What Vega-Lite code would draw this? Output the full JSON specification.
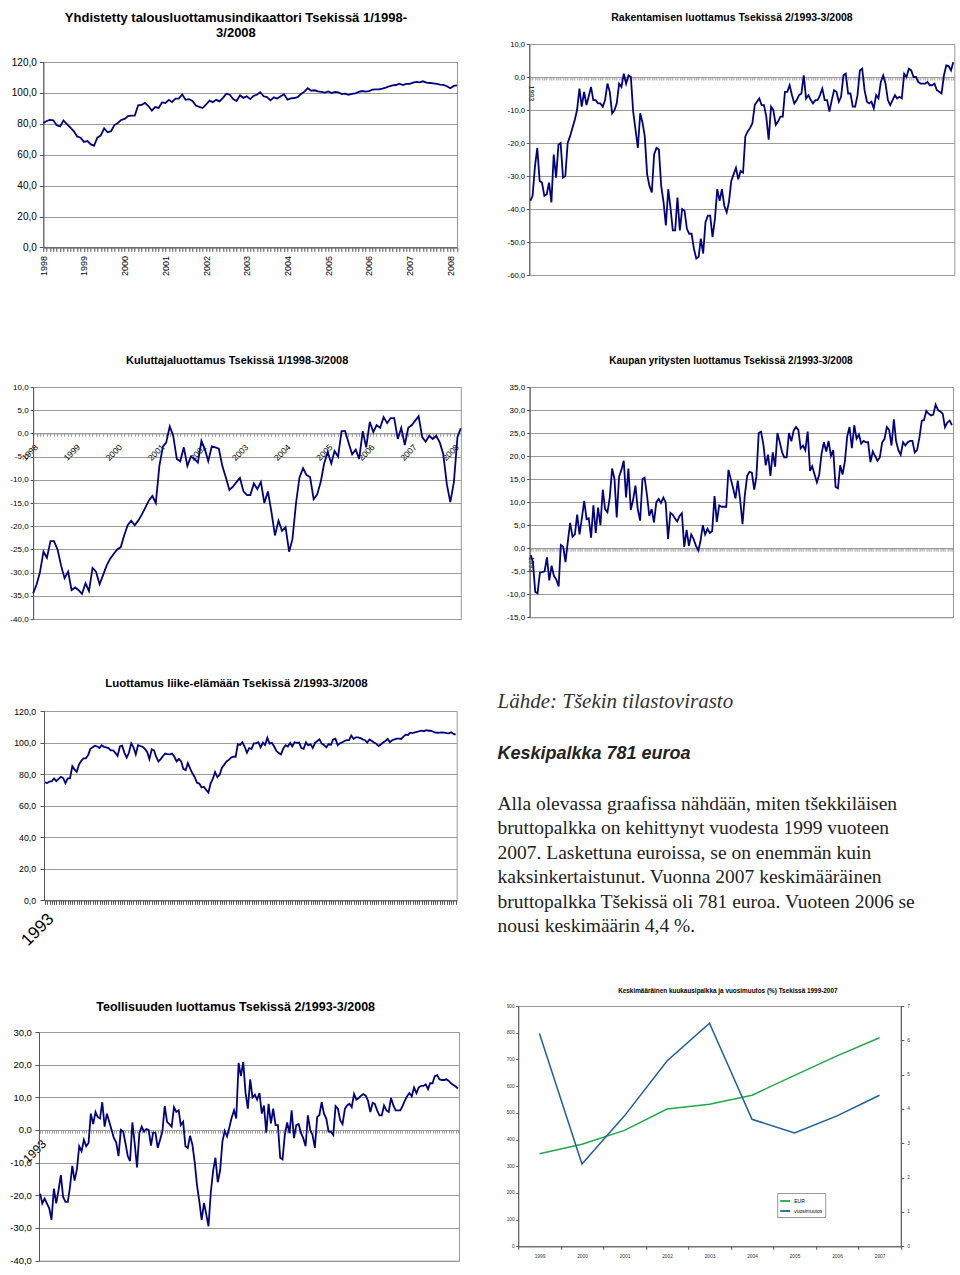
{
"$schema": "https://vega.github.io/schema/vega-lite/v6.json",
"background": "white",
"padding": {"left": 3, "top": 0, "right": 0, "bottom": 0},
"config": {
  "font": "Liberation Sans",
  "view": {"stroke": "#999999", "strokeWidth": 1},
  "axis": {"labelFont": "Liberation Sans", "labelColor": "#000000", "domainColor": "#555555", "tickColor": "#555555", "gridColor": "#9a9a9a", "gridWidth": 1},
  "axisX": {"grid": false},
  "axisY": {"grid": true},
  "title": {"font": "Liberation Sans", "fontWeight": "bold", "color": "#000000", "anchor": "middle", "frame": "bounds"},
  "line": {"color": "#000080", "strokeWidth": 1.8}
},
"datasets": {
"m98": [
{"d":"1998-01","yht":80.5,"kul":-34.5},{"d":"1998-02","yht":81.8,"kul":-32.5},{"d":"1998-03","yht":82.5,"kul":-30},{"d":"1998-04","yht":82.3,"kul":-25.5},{"d":"1998-05","yht":79,"kul":-26.8},{"d":"1998-06","yht":78.3,"kul":-23.2},{"d":"1998-07","yht":82.2,"kul":-23.2},{"d":"1998-08","yht":79.8,"kul":-25},{"d":"1998-09","yht":77.5,"kul":-28.5},{"d":"1998-10","yht":75.3,"kul":-31.2},{"d":"1998-11","yht":71.8,"kul":-29.8},{"d":"1998-12","yht":71,"kul":-33.8},
{"d":"1999-01","yht":68.3,"kul":-33.2},{"d":"1999-02","yht":68.8,"kul":-33.8},{"d":"1999-03","yht":66.8,"kul":-34.6},{"d":"1999-04","yht":65.8,"kul":-32.3},{"d":"1999-05","yht":71,"kul":-34},{"d":"1999-06","yht":72.5,"kul":-29},{"d":"1999-07","yht":77,"kul":-29.8},{"d":"1999-08","yht":74.5,"kul":-32.5},{"d":"1999-09","yht":75.2,"kul":-30.5},{"d":"1999-10","yht":79.2,"kul":-28.5},{"d":"1999-11","yht":80.5,"kul":-27},{"d":"1999-12","yht":82.5,"kul":-26},
{"d":"2000-01","yht":83.2,"kul":-25},{"d":"2000-02","yht":85,"kul":-24.5},{"d":"2000-03","yht":85.3,"kul":-22},{"d":"2000-04","yht":85.3,"kul":-19.8},{"d":"2000-05","yht":92,"kul":-18.8},{"d":"2000-06","yht":92.2,"kul":-19.8},{"d":"2000-07","yht":93.5,"kul":-18.8},{"d":"2000-08","yht":91.5,"kul":-17.5},{"d":"2000-09","yht":88.5,"kul":-16},{"d":"2000-10","yht":90.8,"kul":-14.5},{"d":"2000-11","yht":90.3,"kul":-13.5},{"d":"2000-12","yht":93.8,"kul":-15},
{"d":"2001-01","yht":93.5,"kul":-7},{"d":"2001-02","yht":95.5,"kul":-2.8},{"d":"2001-03","yht":94,"kul":-2},{"d":"2001-04","yht":96.3,"kul":1.5},{"d":"2001-05","yht":96.3,"kul":-0.5},{"d":"2001-06","yht":99,"kul":-5.5},{"d":"2001-07","yht":95.5,"kul":-6},{"d":"2001-08","yht":96,"kul":-3},{"d":"2001-09","yht":94.8,"kul":-7},{"d":"2001-10","yht":91.8,"kul":-5},{"d":"2001-11","yht":91,"kul":-5.5},{"d":"2001-12","yht":90.2,"kul":-6.3},
{"d":"2002-01","yht":92.5,"kul":-1.6},{"d":"2002-02","yht":95,"kul":-3.5},{"d":"2002-03","yht":94,"kul":-6},{"d":"2002-04","yht":95.5,"kul":-2.8},{"d":"2002-05","yht":94.5,"kul":-3},{"d":"2002-06","yht":96.8,"kul":-3.3},{"d":"2002-07","yht":99.5,"kul":-7},{"d":"2002-08","yht":98.8,"kul":-9.5},{"d":"2002-09","yht":96,"kul":-12.2},{"d":"2002-10","yht":94.8,"kul":-11.5},{"d":"2002-11","yht":98.4,"kul":-10.5},{"d":"2002-12","yht":96.8,"kul":-9.6},
{"d":"2003-01","yht":97.8,"kul":-12.5},{"d":"2003-02","yht":96,"kul":-13.3},{"d":"2003-03","yht":98,"kul":-13.3},{"d":"2003-04","yht":98.8,"kul":-10.8},{"d":"2003-05","yht":100.4,"kul":-12},{"d":"2003-06","yht":97.8,"kul":-10.5},{"d":"2003-07","yht":97.3,"kul":-15},{"d":"2003-08","yht":95.2,"kul":-12.5},{"d":"2003-09","yht":97.1,"kul":-17},{"d":"2003-10","yht":96.3,"kul":-22},{"d":"2003-11","yht":97.8,"kul":-18.8},{"d":"2003-12","yht":99.1,"kul":-21},
{"d":"2004-01","yht":95.6,"kul":-20.2},{"d":"2004-02","yht":96.5,"kul":-25.5},{"d":"2004-03","yht":96.7,"kul":-22.8},{"d":"2004-04","yht":97.3,"kul":-15},{"d":"2004-05","yht":99.3,"kul":-9.5},{"d":"2004-06","yht":100.8,"kul":-7.5},{"d":"2004-07","yht":103,"kul":-9},{"d":"2004-08","yht":101.4,"kul":-9.4},{"d":"2004-09","yht":101.7,"kul":-14.2},{"d":"2004-10","yht":101,"kul":-13.2},{"d":"2004-11","yht":100.6,"kul":-10.5},{"d":"2004-12","yht":100.2,"kul":-6.5},
{"d":"2005-01","yht":101,"kul":-4},{"d":"2005-02","yht":99.9,"kul":-6.5},{"d":"2005-03","yht":100.6,"kul":-3.8},{"d":"2005-04","yht":100.4,"kul":-5},{"d":"2005-05","yht":99.3,"kul":0.5},{"d":"2005-06","yht":99.5,"kul":0.5},{"d":"2005-07","yht":98.8,"kul":-2},{"d":"2005-08","yht":99.3,"kul":-4.5},{"d":"2005-09","yht":99.7,"kul":-3.5},{"d":"2005-10","yht":100.6,"kul":-5.5},{"d":"2005-11","yht":101.2,"kul":0.5},{"d":"2005-12","yht":100.8,"kul":-3},
{"d":"2006-01","yht":101.2,"kul":2.5},{"d":"2006-02","yht":102.1,"kul":0.3},{"d":"2006-03","yht":102.3,"kul":1.8},{"d":"2006-04","yht":102.3,"kul":1.2},{"d":"2006-05","yht":102.7,"kul":3.5},{"d":"2006-06","yht":103.4,"kul":2.2},{"d":"2006-07","yht":104.3,"kul":3.3},{"d":"2006-08","yht":104.9,"kul":3.3},{"d":"2006-09","yht":105.1,"kul":-1.2},{"d":"2006-10","yht":106,"kul":1.2},{"d":"2006-11","yht":105.1,"kul":-2.5},{"d":"2006-12","yht":105.8,"kul":1.2},
{"d":"2007-01","yht":105.8,"kul":1.8},{"d":"2007-02","yht":106.6,"kul":2.8},{"d":"2007-03","yht":107.1,"kul":3.7},{"d":"2007-04","yht":106.8,"kul":-0.8},{"d":"2007-05","yht":107.5,"kul":-1.8},{"d":"2007-06","yht":106.6,"kul":-0.5},{"d":"2007-07","yht":106.4,"kul":-1.2},{"d":"2007-08","yht":106.2,"kul":-0.5},{"d":"2007-09","yht":105.8,"kul":-2},{"d":"2007-10","yht":105.3,"kul":-4.5},{"d":"2007-11","yht":105.2,"kul":-11},{"d":"2007-12","yht":104.3,"kul":-14.8},
{"d":"2008-01","yht":103,"kul":-10.5},{"d":"2008-02","yht":104.5,"kul":-0.8},{"d":"2008-03","yht":104.8,"kul":1.1}
],
"m93": [
{"d":"1993-02","rak":-37.5,"kau":-1.5,"lii":74.8,"teo":-19.5},{"d":"1993-03","rak":-36,"kau":-3,"lii":74.3,"teo":-22.5},{"d":"1993-04","rak":-27,"kau":-9.5,"lii":75.3,"teo":-21},{"d":"1993-05","rak":-21.5,"kau":-9.8,"lii":75.5,"teo":-22.5},{"d":"1993-06","rak":-31.5,"kau":-5.3,"lii":77.3,"teo":-24},{"d":"1993-07","rak":-32,"kau":-5.2,"lii":75.5,"teo":-27.5},{"d":"1993-08","rak":-36,"kau":-5,"lii":77,"teo":-18},{"d":"1993-09","rak":-35.5,"kau":-2,"lii":78.3,"teo":-22.5},{"d":"1993-10","rak":-32,"kau":-7,"lii":77.5,"teo":-18.5},{"d":"1993-11","rak":-38,"kau":-3.8,"lii":74.3,"teo":-13.8},{"d":"1993-12","rak":-23.5,"kau":-6,"lii":77.3,"teo":-20.5},
{"d":"1994-01","rak":-30.5,"kau":-6.8,"lii":77.3,"teo":-22},{"d":"1994-02","rak":-20.5,"kau":-8.3,"lii":85,"teo":-22},{"d":"1994-03","rak":-20,"kau":0.7,"lii":83,"teo":-17.5},{"d":"1994-04","rak":-30.5,"kau":0.3,"lii":81.5,"teo":-11},{"d":"1994-05","rak":-30,"kau":-3,"lii":86,"teo":-15.5},{"d":"1994-06","rak":-20,"kau":1.5,"lii":88.5,"teo":-12},{"d":"1994-07","rak":-18,"kau":5.5,"lii":90,"teo":-5},{"d":"1994-08","rak":-15.5,"kau":2.5,"lii":90,"teo":-6.5},{"d":"1994-09","rak":-13,"kau":3,"lii":92,"teo":-3},{"d":"1994-10","rak":-10,"kau":7.3,"lii":96,"teo":-5},{"d":"1994-11","rak":-3.5,"kau":3,"lii":97,"teo":-4},{"d":"1994-12","rak":-9,"kau":6.5,"lii":98,"teo":5},
{"d":"1995-01","rak":-4.5,"kau":10.3,"lii":97.5,"teo":1.8},{"d":"1995-02","rak":-8.5,"kau":6.3,"lii":96.5,"teo":5.5},{"d":"1995-03","rak":-6,"kau":6.5,"lii":98.3,"teo":4},{"d":"1995-04","rak":-3,"kau":2.3,"lii":97.3,"teo":3.5},{"d":"1995-05","rak":-7,"kau":9.3,"lii":97,"teo":8.5},{"d":"1995-06","rak":-7,"kau":3.3,"lii":96.5,"teo":1},{"d":"1995-07","rak":-8,"kau":8.8,"lii":95,"teo":5},{"d":"1995-08","rak":-8,"kau":5,"lii":95,"teo":2.5},{"d":"1995-09","rak":-9,"kau":12.7,"lii":93.5,"teo":0},{"d":"1995-10","rak":-7,"kau":8.5,"lii":91.5,"teo":-2.5},{"d":"1995-11","rak":-2,"kau":7.8,"lii":97.5,"teo":-3.8},{"d":"1995-12","rak":-4.5,"kau":11,"lii":98,"teo":-8},
{"d":"1996-01","rak":-11,"kau":17.3,"lii":93.5,"teo":0},{"d":"1996-02","rak":-10,"kau":15,"lii":90.5,"teo":-0.5},{"d":"1996-03","rak":-8,"kau":6.7,"lii":93.5,"teo":-4},{"d":"1996-04","rak":-2,"kau":15.5,"lii":99.5,"teo":-8},{"d":"1996-05","rak":-3,"kau":17,"lii":97,"teo":-9.5},{"d":"1996-06","rak":1,"kau":19,"lii":92.5,"teo":2.3},{"d":"1996-07","rak":-2,"kau":11,"lii":98.3,"teo":-4},{"d":"1996-08","rak":0.5,"kau":17.3,"lii":97.8,"teo":-11.5},{"d":"1996-09","rak":0,"kau":8.3,"lii":97.3,"teo":-1},{"d":"1996-10","rak":-10.5,"kau":10.5,"lii":96,"teo":1},{"d":"1996-11","rak":-16,"kau":13.6,"lii":94,"teo":-0.5},{"d":"1996-12","rak":-21.5,"kau":8.5,"lii":89.5,"teo":0.3},
{"d":"1997-01","rak":-11,"kau":6,"lii":95.7,"teo":0},{"d":"1997-02","rak":-14,"kau":15,"lii":95,"teo":-4.8},{"d":"1997-03","rak":-18,"kau":15.3,"lii":91,"teo":-0.8},{"d":"1997-04","rak":-29.5,"kau":11.5,"lii":88,"teo":-0.8},{"d":"1997-05","rak":-33,"kau":7,"lii":89.5,"teo":-5.5},{"d":"1997-06","rak":-35,"kau":8.5,"lii":91.5,"teo":-3},{"d":"1997-07","rak":-23.5,"kau":5.6,"lii":93,"teo":-0.5},{"d":"1997-08","rak":-21.5,"kau":10,"lii":92.7,"teo":7.3},{"d":"1997-09","rak":-22,"kau":10.7,"lii":92.5,"teo":2.5},{"d":"1997-10","rak":-33,"kau":9.8,"lii":93,"teo":1.8},{"d":"1997-11","rak":-38,"kau":11,"lii":91,"teo":1},{"d":"1997-12","rak":-45,"kau":10,"lii":88,"teo":7},
{"d":"1998-01","rak":-34,"kau":2,"lii":89.5,"teo":5.5},{"d":"1998-02","rak":-40,"kau":7.7,"lii":88,"teo":6},{"d":"1998-03","rak":-46.5,"kau":7.3,"lii":83.3,"teo":1.5},{"d":"1998-04","rak":-46.5,"kau":6.5,"lii":82.5,"teo":2.5},{"d":"1998-05","rak":-36.5,"kau":5.8,"lii":87,"teo":-5},{"d":"1998-06","rak":-46.5,"kau":7,"lii":83.5,"teo":-5.5},{"d":"1998-07","rak":-40,"kau":7.6,"lii":80.5,"teo":-1.8},{"d":"1998-08","rak":-40.5,"kau":0.3,"lii":78,"teo":-4.5},{"d":"1998-09","rak":-46,"kau":4,"lii":74.5,"teo":-10},{"d":"1998-10","rak":-47.5,"kau":0.5,"lii":74,"teo":-17},{"d":"1998-11","rak":-47.5,"kau":3,"lii":71.5,"teo":-22},{"d":"1998-12","rak":-52,"kau":2,"lii":72,"teo":-27.5},
{"d":"1999-01","rak":-55,"kau":0.5,"lii":70,"teo":-22.3},{"d":"1999-02","rak":-54.5,"kau":-0.5,"lii":68.3,"teo":-26},{"d":"1999-03","rak":-49,"kau":1.5,"lii":74,"teo":-29.5},{"d":"1999-04","rak":-53.5,"kau":5,"lii":77,"teo":-19},{"d":"1999-05","rak":-44,"kau":3,"lii":81.3,"teo":-12.5},{"d":"1999-06","rak":-42,"kau":4.2,"lii":78,"teo":-8.5},{"d":"1999-07","rak":-42,"kau":3.3,"lii":79.5,"teo":-16},{"d":"1999-08","rak":-48.5,"kau":3.7,"lii":84,"teo":-12.5},{"d":"1999-09","rak":-43,"kau":11.3,"lii":86,"teo":-3.5},{"d":"1999-10","rak":-34,"kau":5.7,"lii":88,"teo":-0.3},{"d":"1999-11","rak":-37.5,"kau":9.3,"lii":89,"teo":-2},{"d":"1999-12","rak":-34,"kau":9,"lii":90.5,"teo":0.8},
{"d":"2000-01","rak":-39,"kau":9,"lii":91,"teo":3.8},{"d":"2000-02","rak":-41,"kau":9,"lii":91,"teo":6},{"d":"2000-03","rak":-38,"kau":17,"lii":99,"teo":3.5},{"d":"2000-04","rak":-31.5,"kau":15,"lii":98.5,"teo":20.5},{"d":"2000-05","rak":-29.5,"kau":13,"lii":100.2,"teo":16.5},{"d":"2000-06","rak":-27.5,"kau":10.8,"lii":97.3,"teo":20.8},{"d":"2000-07","rak":-31,"kau":14.7,"lii":93.5,"teo":11.5},{"d":"2000-08","rak":-28.5,"kau":10.5,"lii":96.5,"teo":6.5},{"d":"2000-09","rak":-29,"kau":5.2,"lii":96,"teo":15.5},{"d":"2000-10","rak":-18,"kau":11.5,"lii":99.5,"teo":10},{"d":"2000-11","rak":-16.5,"kau":15.7,"lii":99.5,"teo":10.8},{"d":"2000-12","rak":-15.5,"kau":16.6,"lii":100.2,"teo":9.3},
{"d":"2001-01","rak":-14,"kau":16.4,"lii":97,"teo":11.3},{"d":"2001-02","rak":-8.5,"kau":12.7,"lii":100,"teo":5},{"d":"2001-03","rak":-7.5,"kau":15.5,"lii":98.5,"teo":7.5},{"d":"2001-04","rak":-6.5,"kau":25,"lii":103,"teo":-0.8},{"d":"2001-05","rak":-8.5,"kau":25.3,"lii":99.3,"teo":8},{"d":"2001-06","rak":-8.5,"kau":22.5,"lii":99.8,"teo":2},{"d":"2001-07","rak":-12,"kau":18,"lii":97.5,"teo":6.5},{"d":"2001-08","rak":-19,"kau":20.3,"lii":94.7,"teo":1.5},{"d":"2001-09","rak":-9,"kau":15.7,"lii":93.3,"teo":1.5},{"d":"2001-10","rak":-10,"kau":20.8,"lii":92.5,"teo":-8.5},{"d":"2001-11","rak":-14.5,"kau":17.7,"lii":96.3,"teo":-9},{"d":"2001-12","rak":-13.5,"kau":25,"lii":98.3,"teo":-1.5},
{"d":"2002-01","rak":-12,"kau":23,"lii":97.5,"teo":2.3},{"d":"2002-02","rak":-12,"kau":20.8,"lii":99.8,"teo":-1},{"d":"2002-03","rak":-4.5,"kau":19.7,"lii":97.5,"teo":6},{"d":"2002-04","rak":-4.5,"kau":19.7,"lii":100.2,"teo":-2.5},{"d":"2002-05","rak":-2.5,"kau":25,"lii":99.8,"teo":1.5},{"d":"2002-06","rak":-5.5,"kau":23.2,"lii":100,"teo":1.8},{"d":"2002-07","rak":-8,"kau":25.5,"lii":96.5,"teo":-0.8},{"d":"2002-08","rak":-7,"kau":26.3,"lii":96,"teo":-2.5},{"d":"2002-09","rak":-5.5,"kau":25.7,"lii":100.2,"teo":-5},{"d":"2002-10","rak":-5,"kau":21.7,"lii":98.2,"teo":4.5},{"d":"2002-11","rak":0.5,"kau":22.3,"lii":99,"teo":0},{"d":"2002-12","rak":-6.5,"kau":21.3,"lii":96.5,"teo":-1.5},
{"d":"2003-01","rak":-5.5,"kau":25.3,"lii":99.8,"teo":-5.5},{"d":"2003-02","rak":-7,"kau":16.8,"lii":101,"teo":4},{"d":"2003-03","rak":-8,"kau":17.8,"lii":102,"teo":4.5},{"d":"2003-04","rak":-7,"kau":16,"lii":99.3,"teo":8.5},{"d":"2003-05","rak":-7,"kau":14.3,"lii":98.5,"teo":5},{"d":"2003-06","rak":-5.5,"kau":16,"lii":97,"teo":3.5},{"d":"2003-07","rak":-3.5,"kau":20.5,"lii":99,"teo":-0.5},{"d":"2003-08","rak":-7,"kau":23,"lii":98.5,"teo":-0.5},{"d":"2003-09","rak":-7,"kau":21,"lii":102,"teo":-1.5},{"d":"2003-10","rak":-10.5,"kau":23.3,"lii":102.5,"teo":7.3},{"d":"2003-11","rak":-7,"kau":20,"lii":98.3,"teo":6.5},{"d":"2003-12","rak":-4,"kau":21.3,"lii":99.5,"teo":3},
{"d":"2004-01","rak":-4.5,"kau":13.3,"lii":100.2,"teo":1.8},{"d":"2004-02","rak":-7.5,"kau":13,"lii":101,"teo":6.5},{"d":"2004-03","rak":-6,"kau":18,"lii":101.5,"teo":7.5},{"d":"2004-04","rak":0.5,"kau":16,"lii":101.5,"teo":8},{"d":"2004-05","rak":1,"kau":18.8,"lii":104.5,"teo":7},{"d":"2004-06","rak":-5,"kau":24.3,"lii":102.3,"teo":11},{"d":"2004-07","rak":-5,"kau":26.3,"lii":103.3,"teo":9.3},{"d":"2004-08","rak":-9,"kau":21.7,"lii":103.3,"teo":9.8},{"d":"2004-09","rak":-9,"kau":26.7,"lii":102.8,"teo":10.5},{"d":"2004-10","rak":-5.5,"kau":23.8,"lii":102,"teo":11},{"d":"2004-11","rak":2,"kau":24.7,"lii":101.5,"teo":10.5},{"d":"2004-12","rak":2.5,"kau":22.7,"lii":100,"teo":9},
{"d":"2005-01","rak":-4,"kau":23.3,"lii":102,"teo":5.5},{"d":"2005-02","rak":-7.5,"kau":23,"lii":101,"teo":8.3},{"d":"2005-03","rak":-8,"kau":23,"lii":100,"teo":8},{"d":"2005-04","rak":-7.5,"kau":18.7,"lii":99.3,"teo":6},{"d":"2005-05","rak":-9.5,"kau":21,"lii":97.8,"teo":4.5},{"d":"2005-06","rak":-5.5,"kau":20,"lii":98.8,"teo":4.5},{"d":"2005-07","rak":-6.5,"kau":19,"lii":100,"teo":7.5},{"d":"2005-08","rak":-1.5,"kau":19.7,"lii":101,"teo":6},{"d":"2005-09","rak":0.5,"kau":23,"lii":102.3,"teo":5.5},{"d":"2005-10","rak":-2,"kau":23.7,"lii":100.3,"teo":9.8},{"d":"2005-11","rak":-7,"kau":26.3,"lii":101.5,"teo":7.5},{"d":"2005-12","rak":-8.5,"kau":25.7,"lii":102,"teo":6},
{"d":"2006-01","rak":-7,"kau":22.3,"lii":102.5,"teo":6},{"d":"2006-02","rak":-5.5,"kau":28,"lii":102.5,"teo":6},{"d":"2006-03","rak":-6.5,"kau":23.3,"lii":102.3,"teo":7.3},{"d":"2006-04","rak":-6,"kau":21.3,"lii":103.8,"teo":9},{"d":"2006-05","rak":-6.5,"kau":20.3,"lii":105,"teo":10.3},{"d":"2006-06","rak":1,"kau":23,"lii":104.8,"teo":11.3},{"d":"2006-07","rak":0,"kau":22.3,"lii":106.3,"teo":10.3},{"d":"2006-08","rak":2.5,"kau":23,"lii":106,"teo":13},{"d":"2006-09","rak":2,"kau":23.3,"lii":106.5,"teo":11.3},{"d":"2006-10","rak":0,"kau":23.3,"lii":106.7,"teo":13},{"d":"2006-11","rak":0,"kau":20.8,"lii":107.3,"teo":13.5},{"d":"2006-12","rak":-1.5,"kau":21.3,"lii":107.5,"teo":13.5},
{"d":"2007-01","rak":-2,"kau":24,"lii":107.2,"teo":14},{"d":"2007-02","rak":-2,"kau":27.7,"lii":107.8,"teo":12.5},{"d":"2007-03","rak":-2,"kau":27.8,"lii":107.5,"teo":14.3},{"d":"2007-04","rak":-1.5,"kau":29.8,"lii":107.6,"teo":14.3},{"d":"2007-05","rak":-2.5,"kau":29.2,"lii":107,"teo":16.5},{"d":"2007-06","rak":-2.5,"kau":28.8,"lii":106.3,"teo":16.8},{"d":"2007-07","rak":-2,"kau":29,"lii":106.2,"teo":15.5},{"d":"2007-08","rak":-4,"kau":31.2,"lii":106.3,"teo":15.3},{"d":"2007-09","rak":-4.5,"kau":30,"lii":106.5,"teo":15.3},{"d":"2007-10","rak":-5,"kau":29.7,"lii":106.3,"teo":15.5},{"d":"2007-11","rak":0.5,"kau":29.2,"lii":106,"teo":15},{"d":"2007-12","rak":3.5,"kau":26.3,"lii":105.8,"teo":14.3},
{"d":"2008-01","rak":3.3,"kau":27.3,"lii":106.5,"teo":13.8},{"d":"2008-02","rak":2,"kau":27.7,"lii":105.5,"teo":13.3},{"d":"2008-03","rak":4.5,"kau":26.7,"lii":105,"teo":12.7}
],
"palkka": [
{"vuosi":"1999","eur":347,"muutos":6.2},{"vuosi":"2000","eur":382,"muutos":2.4},{"vuosi":"2001","eur":434,"muutos":3.8},{"vuosi":"2002","eur":514,"muutos":5.4},{"vuosi":"2003","eur":532,"muutos":6.5},{"vuosi":"2004","eur":566,"muutos":3.7},{"vuosi":"2005","eur":640,"muutos":3.3},{"vuosi":"2006","eur":713,"muutos":3.8},{"vuosi":"2007","eur":781,"muutos":4.4}
],
"teksti": [
{"ln":0,"t":"Alla olevassa graafissa nähdään, miten  tšekkiläisen"},
{"ln":1,"t":"bruttopalkka on kehittynyt vuodesta 1999 vuoteen"},
{"ln":2,"t":"2007. Laskettuna euroissa, se on enemmän kuin"},
{"ln":3,"t":"kaksinkertaistunut. Vuonna 2007 keskimääräinen"},
{"ln":4,"t":"bruttopalkka Tšekissä oli 781 euroa. Vuoteen 2006 se"},
{"ln":5,"t":"nousi keskimäärin 4,4 %."}
]
},
"spacing": 16.5,
"resolve": {"scale": {"color": "independent"}},
"hconcat": [
{"concat": [
  {"width": 1, "height": 10.8, "data": {"values": []}, "mark": "point", "view": {"stroke": null}},
  {"concat": [
    {"width": 1, "height": 1, "data": {"values": []}, "mark": "point", "view": {"stroke": null}},
    {
      "width": 413.7, "height": 185.4,
      "title": {"text": ["Yhdistetty talousluottamusindikaattori Tsekissä 1/1998-", "3/2008"], "fontSize": 13, "lineHeight": 15, "offset": 17},
      "data": {"name": "m98"},
      "mark": {"type": "line", "color": "#000080", "strokeWidth": 1.8},
      "encoding": {
        "x": {"field": "d", "type": "temporal", "scale": {"type": "utc", "domain": [{"year": 1998, "month": 1, "date": 1, "utc": true}, {"year": 2008, "month": 3, "date": 1, "utc": true}]},
              "axis": {"title": null, "tickCount": {"interval": "month", "step": 1}, "labelExpr": "utcmonth(datum.value)==0 ? utcFormat(datum.value,'%Y') : ''", "labelAngle": -90, "labelFontSize": {"condition": {"test": "utcmonth(datum.value)==0", "value": 9}, "value": 0}, "labelPadding": 4, "tickSize": 4, "labelOverlap": false, "labelFlush": false, "labelBound": false}},
        "y": {"field": "yht", "type": "quantitative", "scale": {"domain": [0, 120], "nice": false},
              "axis": {"title": null, "values": [0, 20, 40, 60, 80, 100, 120], "labelExpr": "replace(replace(format(datum.value,'.1f'),'.',','),'\u2212','-')", "labelFontSize": 10, "labelPadding": 3, "tickSize": 4}}
      }
    }
  ], "columns": 2, "align": "none", "spacing": 6.3},
  {"width": 1, "height": 77.2, "data": {"values": []}, "mark": "point", "view": {"stroke": null}},
  {"concat": [
    {"width": 1, "height": 1, "data": {"values": []}, "mark": "point", "view": {"stroke": null}},
    {
      "width": 427.7, "height": 232,
      "title": {"text": "Kuluttajaluottamus Tsekissä 1/1998-3/2008", "fontSize": 11, "offset": 17},
      "data": {"name": "m98"},
      "mark": {"type": "line", "color": "#000080", "strokeWidth": 1.8},
      "encoding": {
        "x": {"field": "d", "type": "temporal", "scale": {"type": "utc", "domain": [{"year": 1998, "month": 1, "date": 1, "utc": true}, {"year": 2008, "month": 3, "date": 1, "utc": true}]},
              "axis": {"title": null, "offset": -185.6, "tickCount": {"interval": "month", "step": 1}, "labelExpr": "utcmonth(datum.value)==0 ? utcFormat(datum.value,'%Y') : ''", "labelAngle": -45, "labelFontSize": {"condition": {"test": "utcmonth(datum.value)==0", "value": 8.5}, "value": 0}, "labelPadding": 6, "tickSize": 3, "domainColor": "#999999", "tickColor": "#999999", "labelOverlap": false, "labelFlush": false, "labelBound": false}},
        "y": {"field": "kul", "type": "quantitative", "scale": {"domain": [-40, 10], "nice": false, "zero": false},
              "axis": {"title": null, "values": [-40, -35, -30, -25, -20, -15, -10, -5, 0, 5, 10], "labelExpr": "replace(replace(format(datum.value,'.1f'),'.',','),'\u2212','-')", "labelFontSize": 8, "labelPadding": 2, "tickSize": 3}}
      }
    }
  ], "columns": 2, "align": "none", "spacing": 5.1},
  {"width": 1, "height": 52.9, "data": {"values": []}, "mark": "point", "view": {"stroke": null}},
  {"concat": [
    {"width": 1, "height": 1, "data": {"values": []}, "mark": "point", "view": {"stroke": null}},
    {
      "width": 412.7, "height": 189.3,
      "title": {"text": "Luottamus liike-elämään Tsekissä 2/1993-3/2008", "fontSize": 11.5, "offset": 17.5},
      "data": {"name": "m93"},
      "mark": {"type": "line", "color": "#000080", "strokeWidth": 1.8},
      "encoding": {
        "x": {"field": "d", "type": "temporal", "scale": {"type": "utc", "domain": [{"year": 1993, "month": 1, "date": 17, "utc": true}, {"year": 2008, "month": 3, "date": 15, "utc": true}]},
              "axis": {"title": null, "tickCount": {"interval": "month", "step": 1}, "labelExpr": "utcyear(datum.value)==1993 && utcmonth(datum.value)==1 ? '1993' : ''", "labelAngle": -45, "labelFontSize": {"condition": {"test": "utcyear(datum.value)==1993 && utcmonth(datum.value)==1", "value": 17}, "value": 0}, "labelPadding": 6, "tickSize": 4, "labelOverlap": false, "labelFlush": false, "labelBound": false}},
        "y": {"field": "lii", "type": "quantitative", "scale": {"domain": [0, 120], "nice": false},
              "axis": {"title": null, "values": [0, 20, 40, 60, 80, 100, 120], "labelExpr": "replace(replace(format(datum.value,'.1f'),'.',','),'\u2212','-')", "labelFontSize": 8.8, "labelPadding": 4.3, "tickSize": 4}}
      }
    }
  ], "columns": 2, "align": "none", "spacing": 9},
  {"width": 1, "height": 50.1, "data": {"values": []}, "mark": "point", "view": {"stroke": null}},
  {"concat": [
    {"width": 1, "height": 1, "data": {"values": []}, "mark": "point", "view": {"stroke": null}},
    {
      "width": 420, "height": 228.6,
      "title": {"text": "Teollisuuden luottamus Tsekissä 2/1993-3/2008", "fontSize": 12.5, "offset": 14},
      "data": {"name": "m93"},
      "mark": {"type": "line", "color": "#000080", "strokeWidth": 1.8},
      "encoding": {
        "x": {"field": "d", "type": "temporal", "scale": {"type": "utc", "domain": [{"year": 1993, "month": 1, "date": 17, "utc": true}, {"year": 2008, "month": 3, "date": 15, "utc": true}]},
              "axis": {"title": null, "offset": -130.6, "tickCount": {"interval": "month", "step": 1}, "labelExpr": "utcyear(datum.value)==1993 && utcmonth(datum.value)==1 ? '1993' : ''", "labelAngle": -45, "labelFontSize": {"condition": {"test": "utcyear(datum.value)==1993 && utcmonth(datum.value)==1", "value": 12}, "value": 0}, "labelPadding": 5, "tickSize": 3, "domainColor": "#999999", "tickColor": "#999999", "labelOverlap": false, "labelFlush": false, "labelBound": false}},
        "y": {"field": "teo", "type": "quantitative", "scale": {"domain": [-40, 30], "nice": false, "zero": false},
              "axis": {"title": null, "values": [-40, -30, -20, -10, 0, 10, 20, 30], "labelExpr": "replace(replace(format(datum.value,'.1f'),'.',','),'\u2212','-')", "labelFontSize": 9.5, "labelPadding": 3.6, "tickSize": 4}}
      }
    }
  ], "columns": 2, "align": "none", "spacing": 5}
], "columns": 1, "align": "none", "spacing": 0},
{"concat": [
  {"width": 1, "height": 12, "data": {"values": []}, "mark": "point", "view": {"stroke": null}},
  {"concat": [
    {"width": 1, "height": 1, "data": {"values": []}, "mark": "point", "view": {"stroke": null}},
    {
      "width": 425, "height": 231,
      "title": {"text": "Rakentamisen luottamus Tsekissä 2/1993-3/2008", "fontSize": 10.5, "offset": 17},
      "data": {"name": "m93"},
      "mark": {"type": "line", "color": "#000080", "strokeWidth": 1.8},
      "encoding": {
        "x": {"field": "d", "type": "temporal", "scale": {"type": "utc", "domain": [{"year": 1993, "month": 1, "date": 17, "utc": true}, {"year": 2008, "month": 3, "date": 15, "utc": true}]},
              "axis": {"title": null, "offset": -198, "tickCount": {"interval": "month", "step": 1}, "labelExpr": "utcyear(datum.value)==1993 && utcmonth(datum.value)==1 ? '1993' : ''", "labelAngle": 90, "labelFontSize": {"condition": {"test": "utcyear(datum.value)==1993 && utcmonth(datum.value)==1", "value": 7}, "value": 0}, "labelPadding": 5, "tickSize": 3, "domainColor": "#999999", "tickColor": "#999999", "labelOverlap": false, "labelFlush": false, "labelBound": false}},
        "y": {"field": "rak", "type": "quantitative", "scale": {"domain": [-60, 10], "nice": false, "zero": false},
              "axis": {"title": null, "values": [-60, -50, -40, -30, -20, -10, 0, 10], "labelExpr": "replace(replace(format(datum.value,'.1f'),'.',','),'\u2212','-')", "labelFontSize": 7.7, "labelPadding": 1.7, "tickSize": 3}}
      }
    }
  ], "columns": 2, "align": "none", "spacing": 23.8},
  {"width": 1, "height": 75, "data": {"values": []}, "mark": "point", "view": {"stroke": null}},
  {"concat": [
    {"width": 1, "height": 1, "data": {"values": []}, "mark": "point", "view": {"stroke": null}},
    {
      "width": 423.4, "height": 230.3,
      "title": {"text": "Kaupan yritysten luottamus Tsekissä 2/1993-3/2008", "fontSize": 10, "offset": 17},
      "data": {"name": "m93"},
      "mark": {"type": "line", "color": "#000080", "strokeWidth": 1.8},
      "encoding": {
        "x": {"field": "d", "type": "temporal", "scale": {"type": "utc", "domain": [{"year": 1993, "month": 1, "date": 17, "utc": true}, {"year": 2008, "month": 3, "date": 15, "utc": true}]},
              "axis": {"title": null, "offset": -69.1, "tickCount": {"interval": "month", "step": 1}, "labelExpr": "utcyear(datum.value)==1993 && utcmonth(datum.value)==1 ? '1993' : ''", "labelAngle": 90, "labelFontSize": {"condition": {"test": "utcyear(datum.value)==1993 && utcmonth(datum.value)==1", "value": 7}, "value": 0}, "labelPadding": 5, "tickSize": 3, "domainColor": "#999999", "tickColor": "#999999", "labelOverlap": false, "labelFlush": false, "labelBound": false}},
        "y": {"field": "kau", "type": "quantitative", "scale": {"domain": [-15, 35], "nice": false, "zero": false},
              "axis": {"title": null, "values": [-15, -10, -5, 0, 5, 10, 15, 20, 25, 30, 35], "labelExpr": "replace(replace(format(datum.value,'.1f'),'.',','),'\u2212','-')", "labelFontSize": 8, "labelPadding": 2, "tickSize": 3}}
      }
    }
  ], "columns": 2, "align": "none", "spacing": 23.1},
  {"width": 1, "height": 67.8, "data": {"values": []}, "mark": "point", "view": {"stroke": null}},
  {"concat": [
    {"width": 1, "height": 1, "data": {"values": []}, "mark": "point", "view": {"stroke": null}},
    {
      "width": 459, "height": 122,
      "view": {"stroke": null},
      "title": {"text": "Lähde: Tšekin tilastovirasto", "subtitle": "Keskipalkka 781 euroa", "anchor": "start", "frame": "group", "font": "Liberation Serif", "fontStyle": "italic", "fontWeight": "normal", "fontSize": 21, "color": "#333333", "subtitleFont": "Liberation Sans", "subtitleFontStyle": "italic", "subtitleFontWeight": "bold", "subtitleFontSize": 18, "subtitleColor": "#222222", "subtitlePadding": 33.5, "offset": 31},
      "data": {"name": "teksti"},
      "mark": {"type": "text", "align": "left", "baseline": "middle", "font": "Liberation Serif", "fontSize": 19.5, "color": "#222222"},
      "encoding": {
        "x": {"datum": 0, "type": "quantitative", "scale": {"domain": [0, 1]}, "axis": null},
        "y": {"field": "ln", "type": "quantitative", "scale": {"domain": [0, 5], "reverse": true, "nice": false, "zero": false}, "axis": null},
        "text": {"field": "t", "type": "nominal"}
      }
    }
  ], "columns": 2, "align": "none", "spacing": 15},
  {"width": 1, "height": 50.3, "data": {"values": []}, "mark": "point", "view": {"stroke": null}},
  {"concat": [
    {"width": 1, "height": 1, "data": {"values": []}, "mark": "point", "view": {"stroke": null}},
    {
      "width": 382.6, "height": 240.3,
      "title": {"text": "Keskimääräinen kuukausipalkka ja vuosimuutos (%) Tsekissä 1999-2007", "fontSize": 6.4, "offset": 9, "dx": 20},
      "data": {"name": "palkka"},
      "layer": [
        {
          "mark": {"type": "line", "strokeWidth": 1.5},
          "encoding": {
            "x": {"field": "vuosi", "type": "ordinal", "bandPosition": 0.5, "scale": {"type": "band", "paddingInner": 0, "paddingOuter": 0}, "axis": {"title": null, "labelAngle": 0, "labelFontSize": 4.8, "labelColor": "#333333", "tickBand": "extent", "tickSize": 3, "labelPadding": 4}},
            "y": {"field": "eur", "type": "quantitative", "scale": {"domain": [0, 900], "nice": false}, "axis": {"title": null, "grid": false, "values": [0, 100, 200, 300, 400, 500, 600, 700, 800, 900], "labelFontSize": 4.8, "labelColor": "#333333", "labelPadding": 1.5, "tickSize": 2.5}},
            "color": {"datum": "EUR", "type": "nominal", "scale": {"domain": ["EUR", "vuosimuutos"], "range": ["#22a84a", "#1d5f9f"]},
                      "legend": {"orient": "none", "legendX": 259, "legendY": 187, "title": null, "labelFontSize": 5, "symbolType": "stroke", "symbolSize": 100, "symbolStrokeWidth": 1.5, "strokeColor": "#999999", "fillColor": "white", "padding": 2, "rowPadding": -2, "labelOffset": 3}}
          }
        },
        {
          "mark": {"type": "line", "strokeWidth": 1.5},
          "encoding": {
            "x": {"field": "vuosi", "type": "ordinal", "bandPosition": 0.5, "scale": {"type": "band", "paddingInner": 0, "paddingOuter": 0}, "axis": {"title": null, "labelAngle": 0, "labelFontSize": 4.8, "labelColor": "#333333", "tickBand": "extent", "tickSize": 3, "labelPadding": 4}},
            "y": {"field": "muutos", "type": "quantitative", "scale": {"domain": [0, 7], "nice": false}, "axis": {"title": null, "orient": "right", "grid": false, "values": [0, 1, 2, 3, 4, 5, 6, 7], "labelFontSize": 4.8, "labelColor": "#333333", "labelPadding": 3, "tickSize": 3}},
            "color": {"datum": "vuosimuutos", "type": "nominal"}
          }
        }
      ],
      "resolve": {"scale": {"y": "independent"}}
    }
  ], "columns": 2, "align": "none", "spacing": 22.7, "resolve": {"scale": {"color": "independent"}}}
], "columns": 1, "align": "none", "spacing": 0, "resolve": {"scale": {"color": "independent"}}}
]
}
